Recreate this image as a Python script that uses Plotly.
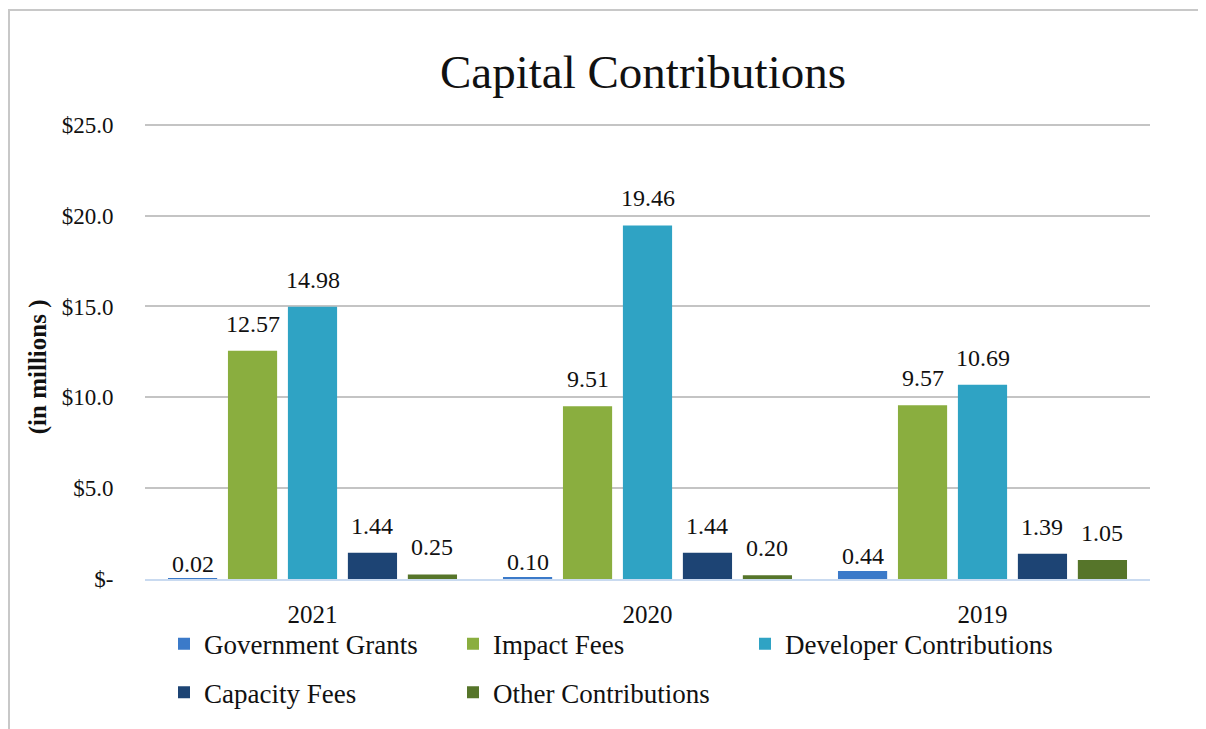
import plotly.graph_objects as go

years = ["2021", "2020", "2019"]
series_names = ["Government Grants", "Impact Fees", "Developer Contributions", "Capacity Fees", "Other Contributions"]
gov_grants = [0.02, 0.10, 0.44]
impact_fees = [12.57, 9.51, 9.57]
developer = [14.98, 19.46, 10.69]
capacity = [1.44, 1.44, 1.39]
other = [0.25, 0.20, 1.05]
tick_vals = [0, 5, 10, 15, 20, 25]
tick_text = ["$-", "$5.0", "$10.0", "$15.0", "$20.0", "$25.0"]

colors = ["#3b7ac9", "#8aae3f", "#2fa3c4", "#1d4474", "#56752a"]
label_gaps = [0, 12, 12, 12, 12]
values = [gov_grants, impact_fees, developer, capacity, other]
legends = ["legend", "legend", "legend3", "legend2", "legend2"]

FONT = "Book Antiqua, Palatino Linotype, Palatino, Liberation Serif, serif"

# page has an 8px body margin; work in page pixels and convert
OFF = 8
W, H = 1206 - OFF, 729 - OFF
YMAX = 25.1
PL, PR, PB = 145, 1150, 584
PT = PB - (PB - 125) * YMAX / 25
L, R, T, B = PL - OFF, W - (PR - OFF), PT - OFF, H - (PB - OFF)
pw, ph = PR - PL, PB - PT
BARGAP, GROUPGAP = 0.105, 0.18
slot = pw / len(years) * (1 - BARGAP) / len(series_names)

def px_x(x):
    return (x - PL) / pw

def px_y(y):
    return (PB - y) / ph

fig = go.Figure()
annotations = []
n = len(series_names)
for i, (name, vals, col, lg, gap) in enumerate(zip(series_names, values, colors, legends, label_gaps)):
    fig.add_trace(go.Bar(
        x=years, y=vals, name=name, legend=lg,
        marker=dict(color=col, line=dict(width=0)),
    ))
    for ci, v in enumerate(vals):
        annotations.append(dict(
            x=ci, y=v, xref="x", yref="y", text=f"{v:.2f}", showarrow=False,
            xanchor="center", yanchor="bottom",
            xshift=(i - (n - 1) / 2) * slot, yshift=gap,
            font=dict(family=FONT, size=24, color="#111111"),
        ))

annotations.append(dict(
    text="<b>(in millions )</b>", xref="paper", yref="paper",
    x=px_x(38), y=px_y(370), xanchor="center", yanchor="middle",
    textangle=-90, showarrow=False,
    font=dict(family=FONT, size=25, color="#111111"),
))

leg_font = dict(family=FONT, size=27, color="#111111")
leg_common = dict(orientation="h", xanchor="left", yanchor="middle",
                  font=leg_font, bgcolor="rgba(0,0,0,0)")

fig.update_layout(
    width=W, height=H,
    margin=dict(l=L, r=R, t=T, b=B),
    paper_bgcolor="white", plot_bgcolor="white",
    barmode="group", bargap=BARGAP, bargroupgap=GROUPGAP,
    font=dict(family=FONT, color="#111111"),
    title=dict(text="Capital Contributions", x=px_x(643), xref="paper", xanchor="center",
               y=1 - (72 - OFF) / H, yanchor="middle",
               font=dict(family=FONT, size=47, color="#111111")),
    showlegend=True,
    legend=dict(x=px_x(164), y=px_y(650), entrywidth=244, entrywidthmode="pixels", **leg_common),
    legend3=dict(x=px_x(745), y=px_y(650), **leg_common),
    legend2=dict(x=px_x(164), y=px_y(699), entrywidth=244, entrywidthmode="pixels", **leg_common),
    annotations=annotations,
    shapes=[dict(type="rect", xref="paper", yref="paper",
                 x0=px_x(9), x1=px_x(1230), y0=px_y(780), y1=px_y(9),
                 line=dict(color="#c8c8c8", width=2), fillcolor="rgba(0,0,0,0)", layer="below")],
)

fig.update_xaxes(
    type="category", categoryorder="array", categoryarray=years,
    showgrid=False, showline=True, linecolor="#c9daf0", linewidth=2,
    ticks="outside", ticklen=12, tickcolor="rgba(0,0,0,0)",
    tickfont=dict(family=FONT, size=25, color="#111111"),
)
fig.update_yaxes(
    range=[0, YMAX], tickvals=tick_vals, ticktext=tick_text,
    showgrid=True, gridcolor="#c4c4c4", gridwidth=2, zeroline=False, showline=False,
    ticks="outside", ticklen=26, tickcolor="rgba(0,0,0,0)",
    tickfont=dict(family=FONT, size=23, color="#111111"),
)

fig.write_html("out.html")
